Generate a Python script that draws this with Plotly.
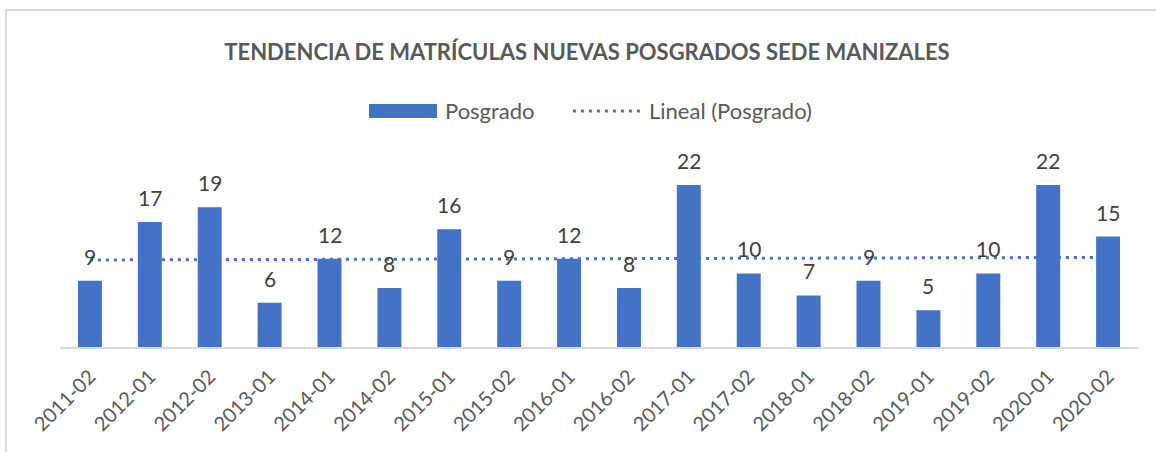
import numpy as np
import plotly.graph_objects as go

categories = ["2011-02", "2012-01", "2012-02", "2013-01", "2014-01", "2014-02",
              "2015-01", "2015-02", "2016-01", "2016-02", "2017-01", "2017-02",
              "2018-01", "2018-02", "2019-01", "2019-02", "2020-01", "2020-02"]
posgrado = [9, 17, 19, 6, 12, 8, 16, 9, 12, 8, 22, 10, 7, 9, 5, 10, 22, 15]

title_text = "TENDENCIA DE MATRÍCULAS NUEVAS POSGRADOS SEDE MANIZALES"
bar_name = "Posgrado"
trend_name = "Lineal (Posgrado)"

BLUE = "#4472C4"
FONT = "Lato, 'Open Sans', sans-serif"

W, H = 1156, 452
L, R, T, B = 60, 1138, 155, 347
PX_PER_UNIT = 7.36


def px(x):
    return (x - L) / (R - L)


def py(y):
    return (B - y) / (B - T)


idx = np.arange(len(posgrado))
slope, intercept = np.polyfit(idx, posgrado, 1)
trend = slope * idx + intercept

fig = go.Figure()
fig.add_trace(go.Bar(
    x=categories, y=posgrado, name=bar_name,
    marker=dict(color=BLUE, line=dict(width=0)),
    showlegend=False, hoverinfo="x+y",
))
fig.add_trace(go.Scatter(
    x=[categories[0], categories[-1]], y=[trend[0], trend[-1]],
    mode="lines", name=trend_name,
    line=dict(color=BLUE, width=3, dash="3px,5px"),
    showlegend=False,
))

annotations = []
for c, v in zip(categories, posgrado):
    annotations.append(dict(
        x=c, y=v, xref="x", yref="y", text=str(v), showarrow=False,
        yanchor="bottom", yshift=10,
        font=dict(family=FONT, size=21, color="#404040"),
    ))

# custom legend
annotations.append(dict(
    x=px(443), y=py(111), xref="paper", yref="paper", text=bar_name,
    showarrow=False, xanchor="left", yanchor="middle",
    font=dict(family=FONT, size=22, color="#595959"),
))
annotations.append(dict(
    x=px(647), y=py(111), xref="paper", yref="paper", text=trend_name,
    showarrow=False, xanchor="left", yanchor="middle",
    font=dict(family=FONT, size=22, color="#595959"),
))

shapes = [
    dict(type="rect", xref="paper", yref="paper",
         x0=px(6), x1=px(1170), y0=py(10), y1=py(470),
         line=dict(color="#D9D9D9", width=2), fillcolor="rgba(0,0,0,0)", layer="below"),
    dict(type="rect", xref="paper", yref="paper",
         x0=px(369), x1=px(437), y0=py(104), y1=py(118),
         line=dict(width=0), fillcolor=BLUE),
    dict(type="line", xref="paper", yref="paper",
         x0=px(573), x1=px(640), y0=py(111), y1=py(111),
         line=dict(color=BLUE, width=3, dash="3px,5px")),
]

fig.update_layout(
    width=W, height=H,
    margin=dict(l=L, r=W - R, t=T, b=H - B, autoexpand=False),
    paper_bgcolor="white", plot_bgcolor="white",
    title=dict(text="<b>" + title_text + "</b>", x=587 / W, xref="container",
               xanchor="center", y=1 - 52 / H, yref="container", yanchor="middle",
               font=dict(family=FONT, size=22, color="#595959")),
    bargap=0.6,
    xaxis=dict(type="category", range=[-0.5, len(categories) - 0.5],
               tickangle=-45, tickfont=dict(family=FONT, size=20, color="#595959"),
               ticklabelstandoff=8,
               showline=True, linecolor="#D9D9D9", linewidth=2,
               ticks="", showgrid=False, zeroline=False),
    yaxis=dict(range=[0, (B - T) / PX_PER_UNIT], visible=False,
               showgrid=False, zeroline=False),
    annotations=annotations,
    shapes=shapes,
    showlegend=False,
)

fig.write_html("out.html", config={"displayModeBar": False},
               post_script="document.body.style.margin='0';document.body.style.overflow='hidden';")
